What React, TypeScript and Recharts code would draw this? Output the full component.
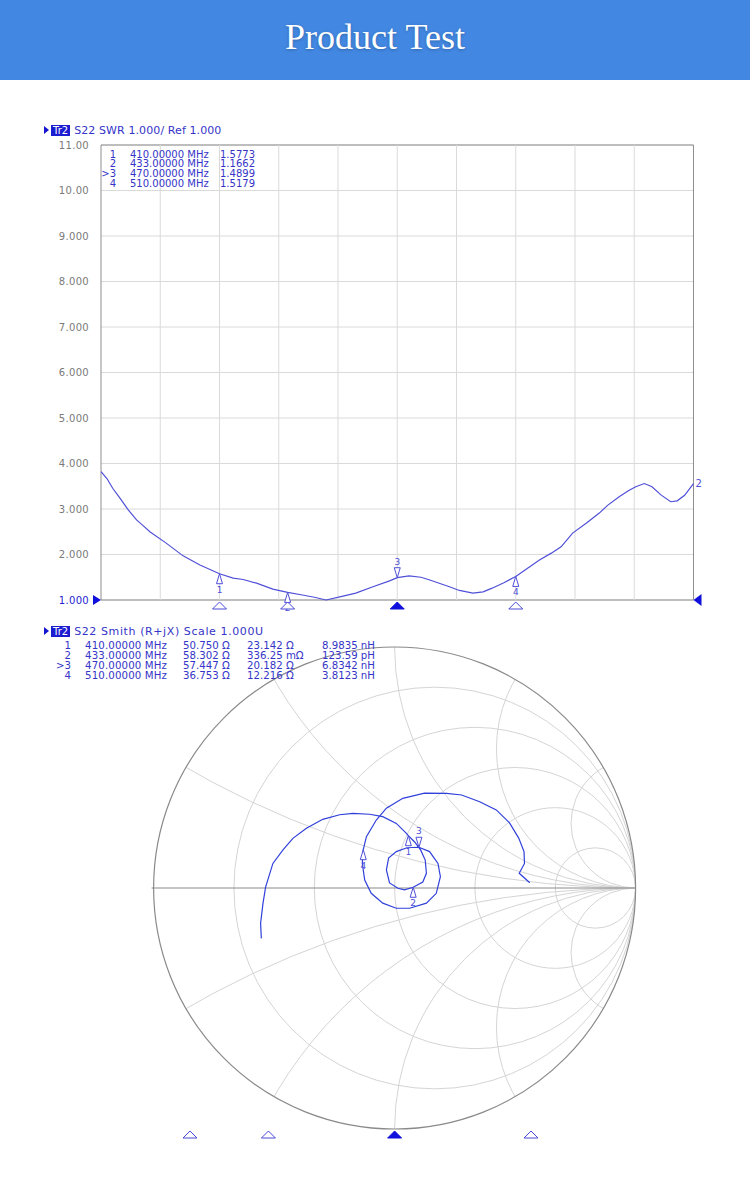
import { ComposedChart, ScatterChart, Line, Scatter, XAxis, YAxis, CartesianGrid, ReferenceArea, ReferenceDot, ReferenceLine, Customized } from 'recharts'

// SWR trace (S22), 370 - 570 MHz
const SWR_FREQ = [
  370, 372, 374, 376.4, 379.2, 382, 384.3, 386.5, 392, 397.7, 403.4, 410, 414.6, 418, 422.5, 428, 433, 438,
  442, 446, 450.6, 456, 461.8, 467.4, 470, 474, 478, 481, 487.6, 491, 495.5, 499, 502, 506, 510, 514, 518,
  522, 525.3, 529.2, 534, 538.2, 541, 544.9, 548, 550.5, 553.4, 556, 559, 562.3, 564.5, 567, 570,
]
const SWR_VALUES = [
  3.82, 3.67, 3.45, 3.24, 2.98, 2.76, 2.63, 2.5, 2.25, 1.97, 1.77, 1.577, 1.48, 1.45, 1.37, 1.24, 1.166, 1.11,
  1.06, 1.0, 1.07, 1.15, 1.29, 1.42, 1.49, 1.53, 1.5, 1.44, 1.29, 1.21, 1.15, 1.18, 1.26, 1.38, 1.518, 1.7, 1.88,
  2.03, 2.17, 2.47, 2.7, 2.91, 3.08, 3.27, 3.4, 3.49, 3.56, 3.49, 3.31, 3.16, 3.18, 3.3, 3.56,
]
const FREQ_TICKS = [370, 390, 410, 430, 450, 470, 490, 510, 530, 550, 570]
const SWR_TICKS = [1, 2, 3, 4, 5, 6, 7, 8, 9, 10, 11]
const REF_LEVEL = 1

// markers
const MARKER_LABELS = ['1', '2', '3', '4']
const MARKER_FREQ = [410, 433, 470, 510]
const MARKER_SWR = [1.5773, 1.1662, 1.4899, 1.5179]
const ACTIVE_MARKER = 2
const SWR_TABLE_FREQ = ['410.00000 MHz', '433.00000 MHz', '470.00000 MHz', '510.00000 MHz']
const SWR_TABLE_VAL = ['1.5773', '1.1662', '1.4899', '1.5179']
const SMITH_TABLE_R = ['50.750 Ω', '58.302 Ω', '57.447 Ω', '36.753 Ω']
const SMITH_TABLE_X = ['23.142 Ω', '336.25 mΩ', '20.182 Ω', '12.216 Ω']
const SMITH_TABLE_L = ['8.9835 nH', '123.59 pH', '6.8342 nH', '3.8123 nH']

// Smith trace, reflection coefficient (re, im)
const SMITH_RE = [
  -0.553, -0.556, -0.546, -0.535, -0.505, -0.463, -0.422, -0.366, -0.298, -0.228, -0.173, -0.104, -0.049, 0.007,
  0.049, 0.057, 0.083, 0.108, 0.127, 0.132, 0.117, 0.077, 0.041, 0.014, -0.021, -0.034, -0.025, 0.007, 0.051,
  0.101, 0.145, 0.18, 0.19, 0.173, 0.132, 0.062, 0.007, -0.049, -0.097, -0.124, -0.134, -0.13, -0.117, -0.076,
  -0.034, 0.034, 0.124, 0.216, 0.278, 0.353, 0.422, 0.477, 0.515, 0.537, 0.539, 0.517, 0.561,
]
const SMITH_IM = [
  -0.209, -0.146, -0.063, 0.005, 0.102, 0.158, 0.206, 0.248, 0.285, 0.304, 0.31, 0.306, 0.296, 0.268,
  0.227, 0.217, 0.191, 0.158, 0.116, 0.061, 0.025, 0.003, -0.008, -0.001, 0.021, 0.075, 0.124, 0.151, 0.167,
  0.169, 0.151, 0.102, 0.047, -0.022, -0.063, -0.084, -0.084, -0.063, -0.022, 0.033, 0.102, 0.159, 0.213, 0.282,
  0.331, 0.372, 0.394, 0.393, 0.386, 0.358, 0.324, 0.27, 0.207, 0.151, 0.102, 0.061, 0.022,
]
const MARKER_RE = [0.057, 0.077, 0.101, -0.13]
const MARKER_IM = [0.217, 0.003, 0.169, 0.159]

// smith grid
const R_CIRCLES = [0.2, 0.5, 1, 2, 5]
const X_ARCS = [0.268, 0.577, 1, 1.732, 3.732]

const swrData = SWR_FREQ.map((f, i) => ({ freq: f, swr: SWR_VALUES[i] }))
const swrMarkers = MARKER_FREQ.map((f, i) => ({ freq: f, swr: MARKER_SWR[i], label: MARKER_LABELS[i], active: i === ACTIVE_MARKER }))
const swrStim = MARKER_FREQ.map((f, i) => ({ freq: f, swr: REF_LEVEL, active: i === ACTIVE_MARKER }))
const smithTrace = SMITH_RE.map((re, i) => ({ re, im: SMITH_IM[i] }))
const smithMarkers = MARKER_RE.map((re, i) => ({ re, im: MARKER_IM[i], label: MARKER_LABELS[i], active: i === ACTIVE_MARKER }))
const smithStim = MARKER_FREQ.map((f, i) => ({ freq: f, im: -1, active: i === ACTIVE_MARKER }))

const TRACE = '#5050d8'
const SMITH_TRACE = '#3040da'
const TEXT_BLUE = '#3434c8'
const FONT = '"DejaVu Sans", Verdana, sans-serif'

// smith chart layout (chart-local px)
const SM_LEFT = 53.6
const SM_TOP = 7
const SM_R = 241
const SM_HALF = 341

function SwrTick(props: any) {
  const { x, y, payload } = props
  const v = payload.value
  const txt = v >= 10 ? v.toFixed(2) : v.toFixed(3)
  return (
    <text x={x} y={y} textAnchor="end" dominantBaseline="central" fontSize={10} fontFamily={FONT}
      fill={v === REF_LEVEL ? '#2424d0' : '#7a7a7a'} letterSpacing={0.3}>
      {txt}
    </text>
  )
}

function MarkerGlyph(props: any) {
  const { cx, cy, payload } = props
  if (cx == null || cy == null) return <g />
  if (payload.active) {
    return (
      <g>
        <polygon points={`${cx - 3},${cy - 10} ${cx + 3},${cy - 10} ${cx},${cy}`} fill="#fff" stroke={TRACE} strokeWidth={1} />
        <text x={cx} y={cy - 13} textAnchor="middle" fontSize={9} fontFamily={FONT} fill={TRACE}>{payload.label}</text>
      </g>
    )
  }
  return (
    <g>
      <polygon points={`${cx},${cy} ${cx - 3},${cy + 10} ${cx + 3},${cy + 10}`} fill="#fff" stroke={TRACE} strokeWidth={1} />
      <text x={cx} y={cy + 19} textAnchor="middle" fontSize={9} fontFamily={FONT} fill={TRACE}>{payload.label}</text>
    </g>
  )
}

function StimGlyph(props: any) {
  const { cx, cy, payload } = props
  if (cx == null || cy == null) return <g />
  const top = cy + 2
  return (
    <polygon points={`${cx},${top} ${cx - 7},${top + 7} ${cx + 7},${top + 7}`}
      fill={payload.active ? '#1010dd' : '#fff'} stroke={payload.active ? '#1010dd' : '#4a4ad8'} strokeWidth={1} />
  )
}

function SmithGrid() {
  const cx = SM_LEFT + SM_HALF
  const cy = SM_TOP + SM_R
  const R = SM_R
  return (
    <g>
      <defs>
        <clipPath id="smithClip">
          <circle cx={cx} cy={cy} r={R} />
        </clipPath>
      </defs>
      <g clipPath="url(#smithClip)" fill="none" stroke="#d4d4d4" strokeWidth={1}>
        {R_CIRCLES.map((r) => (
          <circle key={'r' + r} cx={cx + (R * r) / (1 + r)} cy={cy} r={R / (1 + r)} />
        ))}
        {X_ARCS.map((x) => (
          <g key={'x' + x}>
            <circle cx={cx + R} cy={cy - R / x} r={R / x} />
            <circle cx={cx + R} cy={cy + R / x} r={R / x} />
          </g>
        ))}
      </g>
      <line x1={cx - R - 2} x2={cx + R} y1={cy} y2={cy} stroke="#8a8a8a" strokeWidth={1} />
      <circle cx={cx} cy={cy} r={R} fill="none" stroke="#8a8a8a" strokeWidth={1.2} />
    </g>
  )
}

function TraceHeader({ top, text, spacing }: { top: number; text: string; spacing: number }) {
  return (
    <div style={{ position: 'absolute', left: 44, top, height: 12, display: 'flex', alignItems: 'center', fontFamily: FONT, fontSize: 11 }}>
      <svg width={6} height={10} style={{ marginRight: 1 }}>
        <polygon points="0,1 5,5 0,9" fill="#1414d0" />
      </svg>
      <span style={{ background: '#1c1cd0', color: '#fff', padding: '0 2px', lineHeight: '11px', fontSize: 10 }}>Tr2</span>
      <span style={{ color: TEXT_BLUE, marginLeft: 4, whiteSpace: 'pre', letterSpacing: spacing }}>{text}</span>
    </div>
  )
}

const abs = (left: number, top: number, extra: any = {}) => ({
  position: 'absolute' as const, left, top, lineHeight: '9px', whiteSpace: 'pre' as const, ...extra,
})

export default function App() {
  const swrRows = [154, 163.7, 173.4, 183.1]
  const smithRows = [645, 655, 665, 675]
  return (
    <div style={{ position: 'relative', width: 750, height: 1191, background: '#fff', overflow: 'hidden' }}>
      <style>{'body{margin:0}'}</style>

      <div style={{ position: 'absolute', left: 0, top: 0, width: 750, height: 80, background: '#4287e1' }}>
        <div style={{ textAlign: 'center', lineHeight: '74px', color: '#fff', fontFamily: '"Liberation Serif", "Times New Roman", serif', fontSize: 36, textShadow: '0 1px 3px rgba(0,0,0,0.25)' }}>
          Product Test
        </div>
      </div>

      {/* SWR chart */}
      <TraceHeader top={124} text="S22 SWR 1.000/ Ref 1.000" spacing={0.1} />
      <div style={{ position: 'absolute', left: 0, top: 120 }}>
        <ComposedChart width={750} height={500} data={swrData} margin={{ top: 25, right: 56.5, bottom: 20, left: 0 }}>
          <CartesianGrid stroke="#dadada" strokeWidth={1} vertical={false} />
          <XAxis dataKey="freq" type="number" domain={[370, 570]} ticks={FREQ_TICKS} tick={false} axisLine={false} tickLine={false} height={0} />
          <YAxis type="number" domain={[1, 11]} ticks={SWR_TICKS} width={101} tick={<SwrTick />} axisLine={false} tickLine={false} tickSize={0} tickMargin={12} />
          {FREQ_TICKS.slice(1, -1).map((t) => (
            <ReferenceLine key={t} x={t} stroke="#dadada" strokeWidth={1} />
          ))}
          <ReferenceArea x1={370} x2={570} y1={1} y2={11} fill="none" stroke="#8e8e8e" strokeWidth={1} fillOpacity={0} />
          <Line dataKey="swr" type="linear" stroke={TRACE} strokeWidth={1.2} dot={false} activeDot={false} isAnimationActive={false} />
          <Scatter data={swrMarkers} dataKey="swr" shape={MarkerGlyph} isAnimationActive={false} />
          <Scatter data={swrStim} dataKey="swr" shape={StimGlyph} isAnimationActive={false} />
          <ReferenceDot x={370} y={REF_LEVEL} r={0}
            shape={(p: any) => <polygon points={`${p.cx - 8},${p.cy - 5} ${p.cx},${p.cy} ${p.cx - 8},${p.cy + 5}`} fill="#1010dd" />} />
          <ReferenceDot x={570} y={REF_LEVEL} r={0}
            shape={(p: any) => <polygon points={`${p.cx + 8},${p.cy - 6} ${p.cx},${p.cy} ${p.cx + 8},${p.cy + 6}`} fill="#1010dd" />} />
          <ReferenceDot x={SWR_FREQ[SWR_FREQ.length - 1]} y={SWR_VALUES[SWR_VALUES.length - 1]} r={0}
            label={{ value: '2', position: 'right', offset: 2, fill: TRACE, fontSize: 10, fontFamily: FONT }} />
        </ComposedChart>
      </div>
      <div style={{ fontFamily: FONT, fontSize: 10, color: TEXT_BLUE }}>
        {MARKER_LABELS.map((m, i) => (
          <div key={'s' + m}>
            <div style={abs(86, swrRows[i] - 4.5, { width: 30, textAlign: 'right' })}>{(i === ACTIVE_MARKER ? '>' : '') + m}</div>
            <div style={abs(130, swrRows[i] - 4.5)}>{SWR_TABLE_FREQ[i]}</div>
            <div style={abs(220, swrRows[i] - 4.5)}>{SWR_TABLE_VAL[i]}</div>
          </div>
        ))}
      </div>

      {/* Smith chart */}
      <TraceHeader top={625} text="S22 Smith (R+jX) Scale 1.000U" spacing={0.6} />
      <div style={{ position: 'absolute', left: 0, top: 640 }}>
        <ScatterChart width={750} height={504} margin={{ top: SM_TOP, right: 750 - SM_LEFT - 2 * SM_HALF, bottom: 15, left: SM_LEFT }}>
          <XAxis xAxisId="g" dataKey="re" type="number" domain={[-SM_HALF / SM_R, SM_HALF / SM_R]} hide />
          <XAxis xAxisId="f" dataKey="freq" type="number" domain={[370, 570]} hide />
          <YAxis dataKey="im" type="number" domain={[-1, 1]} hide />
          <Customized component={<SmithGrid />} />
          <Scatter xAxisId="g" data={smithTrace} line={{ stroke: SMITH_TRACE, strokeWidth: 1.2 }} shape={() => <g />} isAnimationActive={false} />
          <Scatter xAxisId="g" data={smithMarkers} shape={(p: any) => <MarkerGlyph {...p} />} isAnimationActive={false} />
          <Scatter xAxisId="f" data={smithStim} shape={StimGlyph} isAnimationActive={false} />
        </ScatterChart>
      </div>
      <div style={{ fontFamily: FONT, fontSize: 10.2, color: TEXT_BLUE }}>
        {MARKER_LABELS.map((m, i) => (
          <div key={'m' + m}>
            <div style={abs(41, smithRows[i] - 4.5, { width: 30, textAlign: 'right' })}>{(i === ACTIVE_MARKER ? '>' : '') + m}</div>
            <div style={abs(85, smithRows[i] - 4.5, { letterSpacing: 0.15 })}>{SWR_TABLE_FREQ[i]}</div>
            <div style={abs(183, smithRows[i] - 4.5)}>{SMITH_TABLE_R[i]}</div>
            <div style={abs(247, smithRows[i] - 4.5)}>{SMITH_TABLE_X[i]}</div>
            <div style={abs(295, smithRows[i] - 4.5, { width: 80, textAlign: 'right' })}>{SMITH_TABLE_L[i]}</div>
          </div>
        ))}
      </div>
    </div>
  )
}
